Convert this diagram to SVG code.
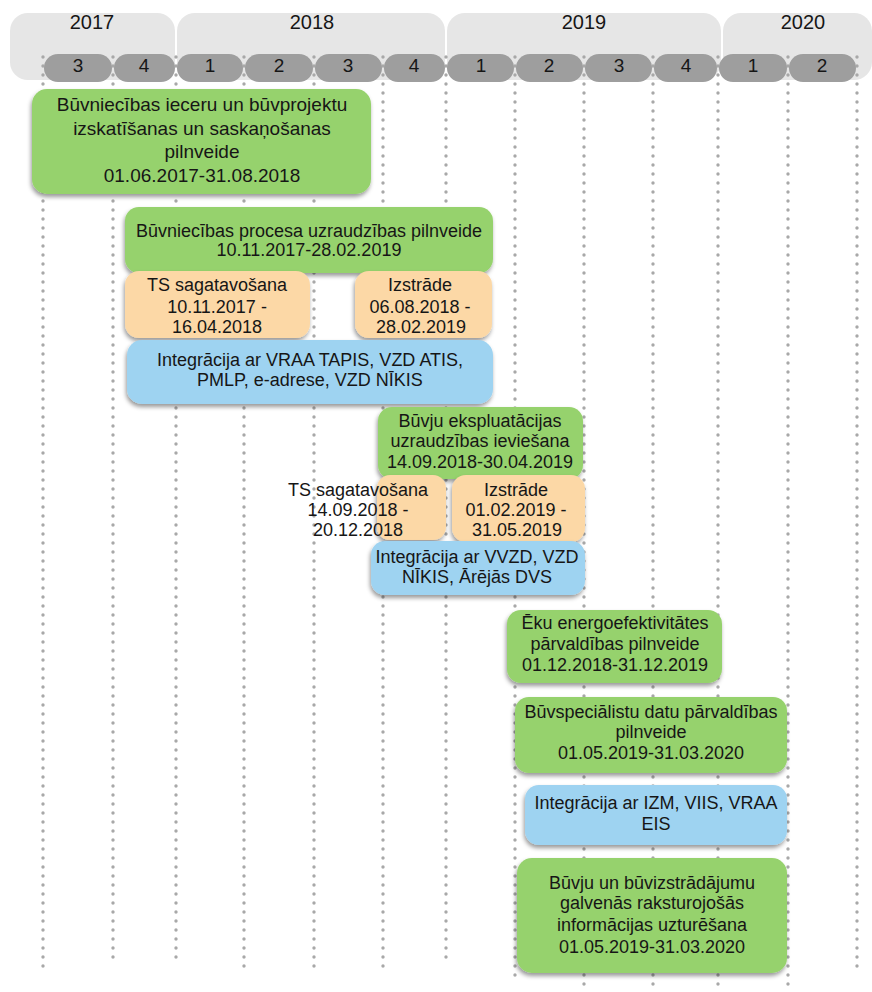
<svg xmlns="http://www.w3.org/2000/svg" width="872" height="992" viewBox="0 0 872 992">
<style>
text{font-family:"Liberation Sans",Arial,sans-serif;fill:#161616;text-anchor:middle}
.yr{font-size:20px}
.q{font-size:19px}
.t{font-size:18px}
.t1{font-size:19px}
.band{fill:#e6e6e6}
.pill{fill:#9e9e9e}
.g{fill:#96d26d}
.o{fill:#fcd8a6}
.b{fill:#9ed3f1}
.grid line{stroke:#a8a8a8;stroke-width:3.4;stroke-linecap:round;stroke-dasharray:0 9}
</style>
<defs>
<filter id="sh" x="-10%" y="-10%" width="120%" height="130%">
<feDropShadow dx="-1" dy="3" stdDeviation="2" flood-color="#000" flood-opacity="0.4"/>
</filter>
</defs>
<rect width="872" height="992" fill="#fff"/>
<g id="years">
<rect class="band" x="10" y="13" width="165" height="67" rx="18"/>
<rect class="band" x="177" y="13" width="268" height="67" rx="18"/>
<rect class="band" x="447" y="13" width="274" height="67" rx="18"/>
<rect class="band" x="723" y="13" width="149" height="67" rx="18"/>
<text class="yr" x="92" y="29">2017</text>
<text class="yr" x="312" y="29">2018</text>
<text class="yr" x="584" y="29">2019</text>
<text class="yr" x="803" y="29">2020</text>
</g>
<g class="grid" id="gridlines">
<line x1="43" y1="57" x2="43" y2="971"/>
<line x1="113" y1="57" x2="113" y2="962"/>
<line x1="176" y1="57" x2="176" y2="962"/>
<line x1="244" y1="57" x2="244" y2="971"/>
<line x1="314" y1="57" x2="314" y2="971"/>
<line x1="383" y1="57" x2="383" y2="971"/>
<line x1="446" y1="57" x2="446" y2="962"/>
<line x1="515" y1="57" x2="515" y2="980"/>
<line x1="584" y1="57" x2="584" y2="989"/>
<line x1="653" y1="57" x2="653" y2="989"/>
<line x1="718" y1="57" x2="718" y2="989"/>
<line x1="788" y1="57" x2="788" y2="989"/>
<line x1="857" y1="57" x2="857" y2="971"/>
</g>
<g id="quarters">
<rect class="pill" x="44" y="54" width="68" height="28" rx="14"/>
<rect class="pill" x="114" y="54" width="61" height="28" rx="14"/>
<rect class="pill" x="177" y="54" width="66" height="28" rx="14"/>
<rect class="pill" x="245" y="54" width="68" height="28" rx="14"/>
<rect class="pill" x="315" y="54" width="67" height="28" rx="14"/>
<rect class="pill" x="384" y="54" width="61" height="28" rx="14"/>
<rect class="pill" x="447" y="54" width="67" height="28" rx="14"/>
<rect class="pill" x="516" y="54" width="67" height="28" rx="14"/>
<rect class="pill" x="585" y="54" width="67" height="28" rx="14"/>
<rect class="pill" x="654" y="54" width="63" height="28" rx="14"/>
<rect class="pill" x="719" y="54" width="68" height="28" rx="14"/>
<rect class="pill" x="789" y="54" width="67" height="28" rx="14"/>
<text class="q" x="78" y="72">3</text>
<text class="q" x="144" y="72">4</text>
<text class="q" x="210" y="72">1</text>
<text class="q" x="279" y="72">2</text>
<text class="q" x="348" y="72">3</text>
<text class="q" x="414" y="72">4</text>
<text class="q" x="481" y="72">1</text>
<text class="q" x="549" y="72">2</text>
<text class="q" x="619" y="72">3</text>
<text class="q" x="686" y="72">4</text>
<text class="q" x="753" y="72">1</text>
<text class="q" x="822" y="72">2</text>
</g>
<g id="n1">
<rect class="g" x="32" y="89" width="339" height="105" rx="15" filter="url(#sh)"/>
<text class="t1" x="202" y="111">Būvniecības ieceru un būvprojektu</text>
<text class="t1" x="202" y="135">izskatīšanas un saskaņošanas</text>
<text class="t1" x="202" y="158">pilnveide</text>
<text class="t1" x="202" y="182">01.06.2017-31.08.2018</text>
</g>
<g id="n2">
<rect class="g" x="125" y="207" width="368" height="66" rx="14" filter="url(#sh)"/>
<text class="t" x="309" y="237">Būvniecības procesa uzraudzības pilnveide</text>
<text class="t" x="309" y="256">10.11.2017-28.02.2019</text>
</g>
<g id="n2a">
<rect class="o" x="125" y="271" width="185" height="67" rx="14" filter="url(#sh)"/>
<text class="t" x="217" y="291">TS sagatavošana</text>
<text class="t" x="217" y="313">10.11.2017 -</text>
<text class="t" x="217" y="333">16.04.2018</text>
</g>
<g id="n2b">
<rect class="o" x="355" y="271" width="137" height="67" rx="14" filter="url(#sh)"/>
<text class="t" x="420" y="291">Izstrāde</text>
<text class="t" x="420" y="313">06.08.2018 -</text>
<text class="t" x="421" y="333">28.02.2019</text>
</g>
<g id="n2c">
<rect class="b" x="127" y="340" width="366" height="64" rx="15" filter="url(#sh)"/>
<text class="t" x="310" y="366">Integrācija ar VRAA TAPIS, VZD ATIS,</text>
<text class="t" x="310" y="386">PMLP, e-adrese, VZD NĪKIS</text>
</g>
<g id="n3">
<rect class="g" x="378" y="407" width="205" height="72" rx="14" filter="url(#sh)"/>
<text class="t" x="480" y="427">Būvju ekspluatācijas</text>
<text class="t" x="480" y="447">uzraudzības ieviešana</text>
<text class="t" x="480" y="468">14.09.2018-30.04.2019</text>
</g>
<g id="n3a">
<rect class="o" x="377" y="475" width="69" height="65" rx="13" filter="url(#sh)"/>
<text class="t" x="358" y="496">TS sagatavošana</text>
<text class="t" x="358" y="516">14.09.2018 -</text>
<text class="t" x="358" y="536">20.12.2018</text>
</g>
<g id="n3b">
<rect class="o" x="452" y="475" width="133" height="67" rx="14" filter="url(#sh)"/>
<text class="t" x="516" y="496">Izstrāde</text>
<text class="t" x="516" y="516">01.02.2019 -</text>
<text class="t" x="517" y="536">31.05.2019</text>
</g>
<g id="n3c">
<rect class="b" x="371" y="541" width="214" height="54" rx="14" filter="url(#sh)"/>
<text class="t" x="477" y="563">Integrācija ar VVZD, VZD</text>
<text class="t" x="477" y="583">NĪKIS, Ārējās DVS</text>
</g>
<g id="n4">
<rect class="g" x="507" y="610" width="215" height="73" rx="14" filter="url(#sh)"/>
<text class="t" x="615" y="629">Ēku energoefektivitātes</text>
<text class="t" x="615" y="650">pārvaldības pilnveide</text>
<text class="t" x="615" y="671">01.12.2018-31.12.2019</text>
</g>
<g id="n5">
<rect class="g" x="515" y="697" width="272" height="76" rx="14" filter="url(#sh)"/>
<text class="t" x="651" y="718">Būvspeciālistu datu pārvaldības</text>
<text class="t" x="651" y="738">pilnveide</text>
<text class="t" x="651" y="759">01.05.2019-31.03.2020</text>
</g>
<g id="n6">
<rect class="b" x="525" y="785" width="262" height="60" rx="14" filter="url(#sh)"/>
<text class="t" x="656" y="809">Integrācija ar IZM, VIIS, VRAA</text>
<text class="t" x="656" y="830">EIS</text>
</g>
<g id="n7">
<rect class="g" x="517" y="858" width="270" height="115" rx="15" filter="url(#sh)"/>
<text class="t" x="652" y="889">Būvju un būvizstrādājumu</text>
<text class="t" x="652" y="909">galvenās raksturojošās</text>
<text class="t" x="652" y="931">informācijas uzturēšana</text>
<text class="t" x="652" y="953">01.05.2019-31.03.2020</text>
</g>
</svg>
